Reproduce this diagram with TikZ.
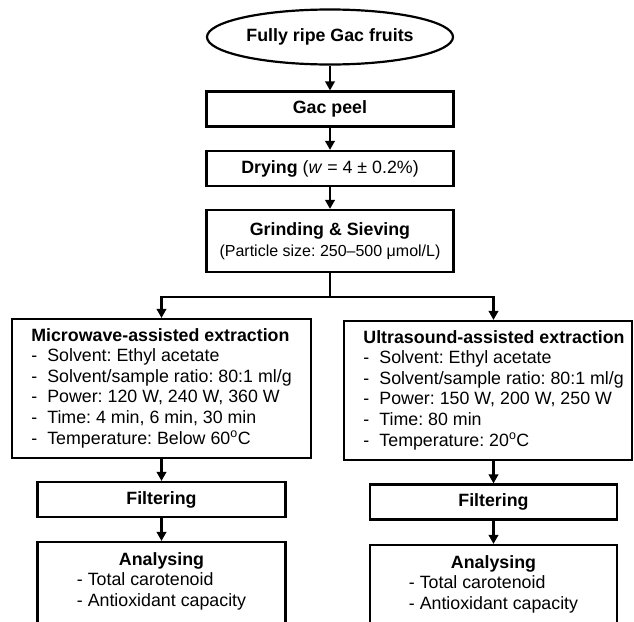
\documentclass[tikz,border=0pt]{standalone}
\usepackage{fontspec}
\setmainfont{Liberation Sans}
\usetikzlibrary{shapes.geometric, positioning, arrows.meta}

\newcommand{\itm}{\makebox[16pt][l]{-}}
\frenchspacing

\begin{document}
\begin{tikzpicture} [x=1pt, y=1pt, on grid, line width=2.2pt,
    font=\fontsize{17.8}{20.6}\selectfont,
    start/.style={draw, ellipse, minimum width=246pt, minimum height=55pt, inner sep=0pt},
    stepbox/.style={draw, minimum width=247pt, minimum height=35pt, inner sep=0pt, align=center},
    listbox/.style={draw, minimum height=139pt, inner ysep=0pt, inner xsep=7pt},
    endbox/.style={draw, minimum width=248pt, inner ysep=9pt, text height=14pt, text depth=80pt},
    flow/.style={-{Triangle[length=9pt, width=9.5pt]}}]

        \useasboundingbox (0,0) rectangle (634,-621);
        \clip (0,0) rectangle (634,-621);

        \node (fruits) [start] at (330,-37) {\textbf{Fully ripe Gac fruits}};
        \node (peel) [stepbox, below = 72pt of fruits] {\textbf{Gac peel}};
        \node (drying) [stepbox, below = 59.5pt of peel] {\textbf{Drying} (\textit{w} = 4 ± 0.2\%)};
        \node (grind) [stepbox, minimum height=62pt, below = 72.5pt of drying]
        {\textbf{Grinding \& Sieving}\\{\fontsize{16}{19}\selectfont (Particle size: 250–500 μmol/L)}};

        \node (mae) [listbox, minimum width=299pt, below left = 147.5pt and 168.5pt of grind]
        {\begin{tabular}{@{}l@{}}\textbf{Microwave-assisted extraction}\\ \itm Solvent: Ethyl acetate\\
        \itm Solvent/sample ratio: 80:1 ml/g\\ \itm Power: 120 W, 240 W, 360 W\\
        \itm Time: 4 min, 6 min, 30 min\\ \itm Temperature: Below 60\textsuperscript{o}C\end{tabular}};
        \node (uae) [listbox, minimum width=288pt, below right = 149.5pt and 158pt of grind]
        {\begin{tabular}{@{\hspace{12pt}}l@{}}\textbf{Ultrasound-assisted extraction}\\ \itm Solvent: Ethyl acetate\\
        \itm Solvent/sample ratio: 80:1 ml/g\\ \itm Power: 150 W, 200 W, 250 W\\
        \itm Time: 80 min\\ \itm Temperature: 20\textsuperscript{o}C\end{tabular}};

        \node (filtL) [stepbox, minimum width=248pt, below = 111pt of mae] {\textbf{Filtering}};
        \node (filtR) [stepbox, below = 111.5pt of uae, xshift=5.5pt] {\textbf{Filtering}};

        \node (anaL) [endbox, below = 98.5pt of filtL]
        {\begin{tabular}[t]{@{}l@{}}\multicolumn{1}{@{}c@{}}{\textbf{Analysing}}\\
        - Total carotenoid\\ - Antioxidant capacity\end{tabular}};
        \node (anaR) [endbox, minimum width=247pt, below = 99pt of filtR]
        {\begin{tabular}[t]{@{}l@{}}\multicolumn{1}{@{}c@{}}{\textbf{Analysing}}\\
        - Total carotenoid\\ - Antioxidant capacity\end{tabular}};

        \draw [flow] (fruits) -- (peel);
        \draw [flow] (peel) -- (drying);
        \draw [flow] (drying) -- (grind);
        \draw (grind.south) -- ++(0,-24) coordinate (split);
        \draw [flow] (split) -| (mae);
        \draw [flow] (split) -| (filtR |- uae.north);
        \draw [flow] (mae) -- (filtL);
        \draw [flow] (uae.south -| filtR) -- (filtR);
        \draw [flow] (filtL) -- (anaL);
        \draw [flow] (filtR) -- (anaR);

    \end{tikzpicture}
\end{document}
